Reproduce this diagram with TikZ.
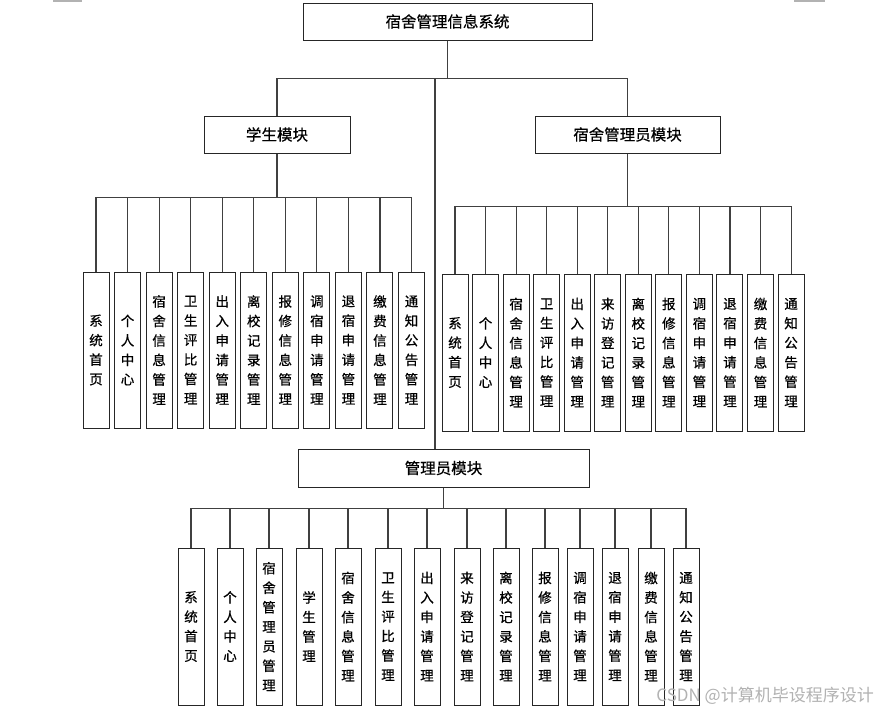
\documentclass[tikz,border=0pt]{standalone}
\usepackage{fontspec}
\newfontfamily\cjk[FakeBold=0.6]{Noto Sans CJK SC}
\newfontfamily\cjkwm{Noto Sans CJK SC}
\begin{document}
\begin{tikzpicture}[x=1pt,y=-1pt,
 box/.style={draw=black!85,line width=1pt,fill=white,inner sep=0pt,font=\cjk\fontsize{15.5}{17}\selectfont},
 vbox/.style={box,minimum width=26pt,minimum height=157pt,align=center,font=\cjk\fontsize{13.5}{19.5}\selectfont},
 conn/.style={draw=black!75,line width=1.1pt}]
\path[fill=white,use as bounding box] (0,0) rectangle (879,716);
\fill[black!30] (53,0) rectangle (82,2);
\fill[black!30] (794,0) rectangle (825,2);
% level 0/1
\node[box,minimum width=289pt,minimum height=37pt] (top) at (447.5,21.5) {宿舍管理信息系统};
\node[box,minimum width=146pt,minimum height=37pt] (stu) at (277,134.5) {学生模块};
\node[box,minimum width=185pt,minimum height=37pt] (mgr) at (627.5,134.5) {宿舍管理员模块};
\node[box,minimum width=291pt,minimum height=38pt] (adm) at (443.5,468) {管理员模块};
\draw[conn] (top.south) -- ++(0,38) -| (stu.north);
\draw[conn] (top.south) -- ++(0,38) -| (mgr.north);
\draw[conn] (top.south) -- ++(0,38) -| ([xshift=-8.5pt]adm.north);
% student children
\foreach \t [count=\i, evaluate=\i as \xx using 96+31.55*(\i-1)] in
 {{系\\统\\首\\页},{个\\人\\中\\心},{宿\\舍\\信\\息\\管\\理},{卫\\生\\评\\比\\管\\理},{出\\入\\申\\请\\管\\理},{离\\校\\记\\录\\管\\理},{报\\修\\信\\息\\管\\理},{调\\宿\\申\\请\\管\\理},{退\\宿\\申\\请\\管\\理},{缴\\费\\信\\息\\管\\理},{通\\知\\公\\告\\管\\理}}
 {\node[vbox,minimum height=156pt] (s\i) at (\xx,350) {\t};
  \draw[conn] (stu.south) -- ++(0,44) -| (s\i.north);}
% dorm manager children
\foreach \t [count=\i, evaluate=\i as \xx using 455+30.55*(\i-1)] in
 {{系\\统\\首\\页},{个\\人\\中\\心},{宿\\舍\\信\\息\\管\\理},{卫\\生\\评\\比\\管\\理},{出\\入\\申\\请\\管\\理},{来\\访\\登\\记\\管\\理},{离\\校\\记\\录\\管\\理},{报\\修\\信\\息\\管\\理},{调\\宿\\申\\请\\管\\理},{退\\宿\\申\\请\\管\\理},{缴\\费\\信\\息\\管\\理},{通\\知\\公\\告\\管\\理}}
 {\node[vbox] (m\i) at (\xx,352.5) {\t};
  \draw[conn] (mgr.south) -- ++(0,53) -| (m\i.north);}
% admin children
\foreach \t/\xx [count=\i] in
 {{系\\统\\首\\页}/191,{个\\人\\中\\心}/230,{宿\\舍\\管\\理\\员\\管\\理}/269,{学\\生\\管\\理}/309,{宿\\舍\\信\\息\\管\\理}/348,{卫\\生\\评\\比\\管\\理}/388,{出\\入\\申\\请\\管\\理}/427,{来\\访\\登\\记\\管\\理}/467,{离\\校\\记\\录\\管\\理}/506,{报\\修\\信\\息\\管\\理}/545,{调\\宿\\申\\请\\管\\理}/580,{退\\宿\\申\\请\\管\\理}/615,{缴\\费\\信\\息\\管\\理}/651,{通\\知\\公\\告\\管\\理}/686}
 {\node[vbox] (a\i) at (\xx,626.5) {\t};
  \draw[conn] (adm.south) -- ++(0,21) -| (a\i.north);}
\node[font=\cjkwm\fontsize{17}{17}\selectfont,text=black!30,anchor=east,inner sep=0pt] (wm) at (874,696) {CSDN @计算机毕设程序设计};
\end{tikzpicture}
\end{document}
